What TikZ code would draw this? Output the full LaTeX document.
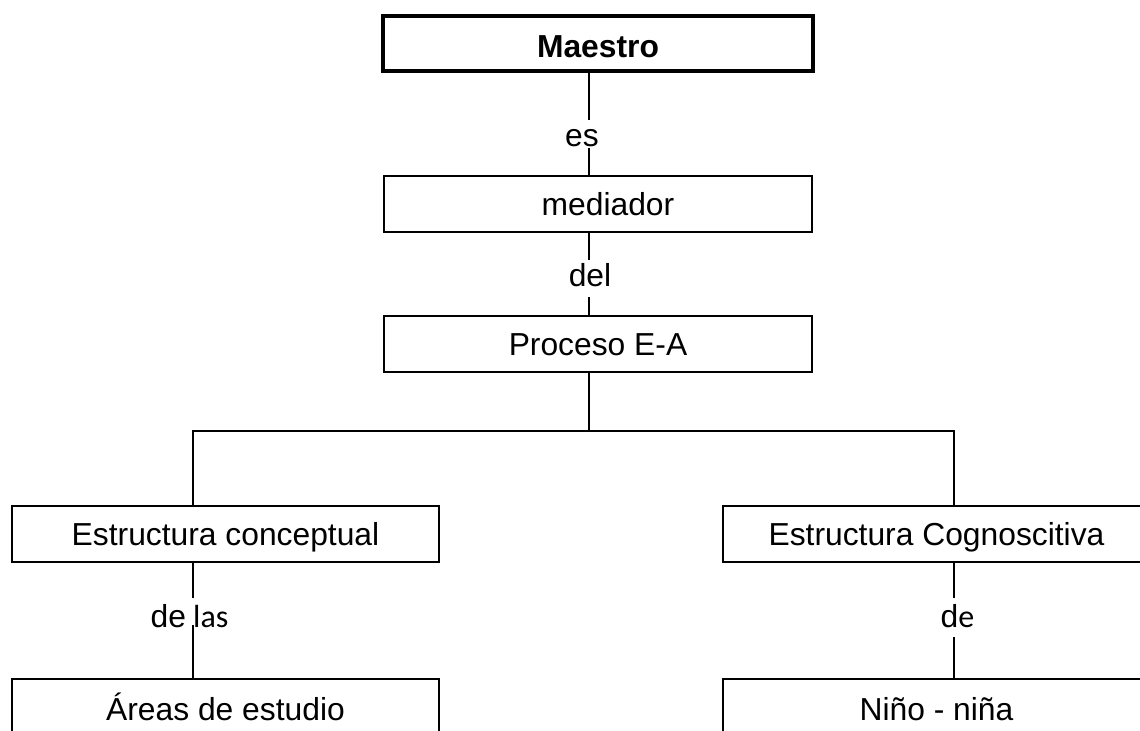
\documentclass[tikz,border=0pt]{standalone}
\usepackage{fontspec}
\setmainfont{Liberation Sans}
\newfontfamily\calfont{Carlito}
\begin{document}
\begin{tikzpicture}[x=0.5pt,y=-0.5pt,
  box/.style={draw=black,line width=1pt,inner sep=0pt,minimum height=28pt,
    text height=11.5pt,text depth=0pt,font=\fontsize{15.9}{19}\selectfont},
  lbl/.style={inner sep=0pt,anchor=base,font=\fontsize{15.9}{19}\selectfont},
  conn/.style={line width=1pt,draw=black}]
\useasboundingbox (0,0) rectangle (1140,731);
\clip (0,0) rectangle (1140,731);
\fill[white] (0,0) rectangle (1140,731);
% boxes
\node[box,line width=1.75pt,minimum width=215pt,minimum height=27.5pt,font=\fontsize{15.9}{19}\selectfont\bfseries,text height=14pt,text depth=0pt] (maestro) at (598,43.5) {Maestro};
\node[box,minimum width=214pt] (mediador) at (598,204) {\hspace*{10pt}mediador};
\node[box,minimum width=214pt] (proceso) at (598,344) {Proceso E-A};
\node[box,minimum width=213.5pt] (econc) at (225.5,534) {Estructura conceptual};
\node[box,minimum width=213.5pt] (ecogn) at (936.5,534) {Estructura Cognoscitiva};
\node[box,minimum width=213.5pt,minimum height=29.5pt] (areas) at (225.5,708.5) {Áreas de estudio};
\node[box,minimum width=213.5pt,minimum height=29.5pt] (nino) at (936.5,708.5) {Niño - niña};
% labels
\node[lbl] (es) at (582,147) {es};
\node[lbl] (del) at (590,287) {del};
\node[lbl] (delas) at (189.5,627) {de\calfont\fontsize{16}{19}\selectfont{} las};
\node[lbl] (de) at (957.5,627) {d{\calfont\fontsize{16}{19}\selectfont e}};
% coordinates for connectors
\coordinate (cx) at (589,0);
\coordinate (lx) at (193,0);
\coordinate (rx) at (954,0);
\coordinate (es1) at (589,120);
\coordinate (es2) at (589,148);
\coordinate (del1) at (589,260);
\coordinate (del2) at (589,297);
\coordinate (bar) at (589,431);
\coordinate (barl) at (193,431);
\coordinate (barr) at (954,431);
\coordinate (dl1) at (193,598);
\coordinate (dl2) at (193,625);
\coordinate (dr1) at (954,598);
\coordinate (dr2) at (954,637);
% connectors
\draw[conn] (maestro.south -| cx) -- (es1);
\draw[conn] (es2) -- (mediador.north -| cx);
\draw[conn] (mediador.south -| cx) -- (del1);
\draw[conn] (del2) -- (proceso.north -| cx);
\draw[conn] (proceso.south -| cx) -- (bar);
\draw[conn] (econc.north -| lx) -- (barl) -- (barr) -- (ecogn.north -| rx);
\draw[conn] (econc.south -| lx) -- (dl1);
\draw[conn] (dl2) -- (areas.north -| lx);
\draw[conn] (ecogn.south -| rx) -- (dr1);
\draw[conn] (dr2) -- (nino.north -| rx);
\end{tikzpicture}
\end{document}
